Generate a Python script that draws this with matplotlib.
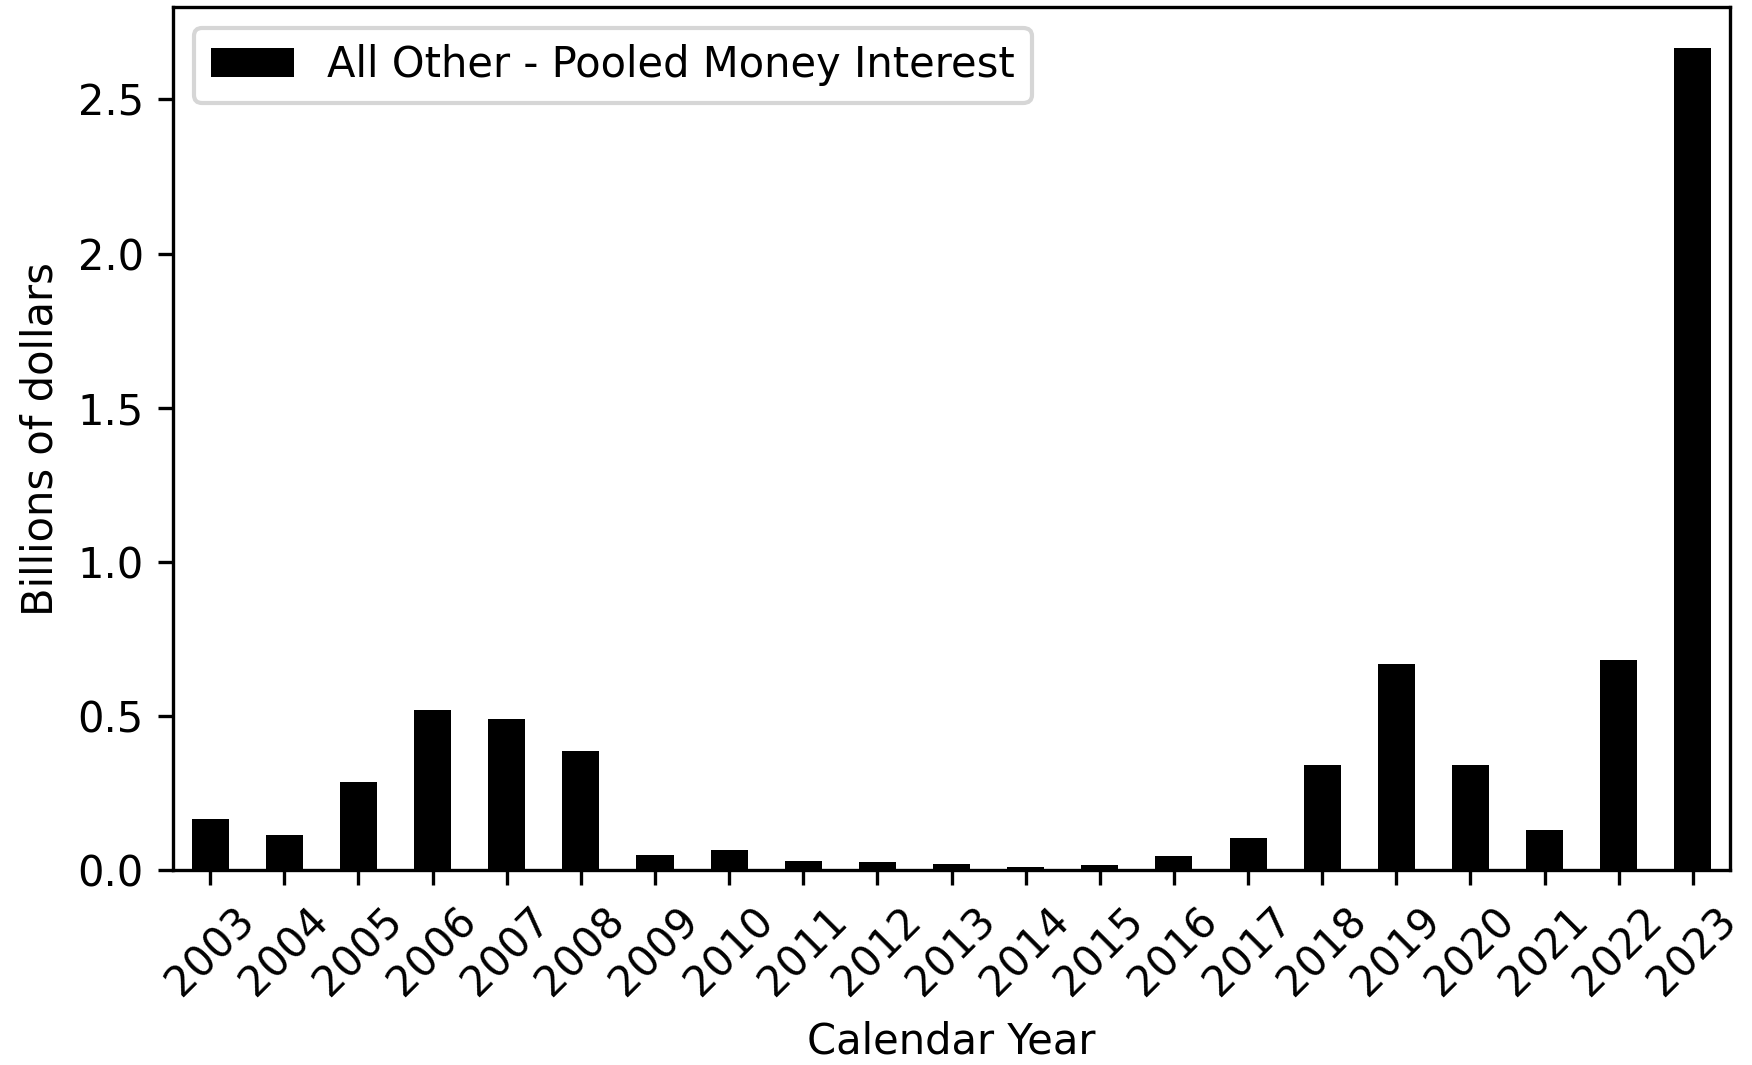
import matplotlib
matplotlib.use("Agg")
import matplotlib.pyplot as plt
import numpy as np

years = [str(y) for y in range(2003, 2024)]
interest = [0.166, 0.114, 0.288, 0.520, 0.490, 0.386, 0.051, 0.065, 0.030,
            0.026, 0.021, 0.011, 0.016, 0.046, 0.104, 0.342, 0.668, 0.342,
            0.130, 0.682, 2.667]
series_label = "All Other - Pooled Money Interest"

dpi = 300
fig = plt.figure(figsize=(1752 / dpi, 1065 / dpi), dpi=dpi)
ax = fig.add_axes([0.0988, 0.1827, 0.8886, 0.811])

x = np.arange(len(years))
ax.bar(x, interest, width=0.5, color="black", label=series_label)
ax.set_xlim(-0.5, len(years) - 0.5)
ax.set_xticks(x)
ax.set_xticklabels(years, rotation=45)
ax.set_xlabel("Calendar Year")
ax.set_ylabel("Billions of dollars")
ax.legend(loc="upper left")

fig.savefig("out.png", dpi=dpi)
